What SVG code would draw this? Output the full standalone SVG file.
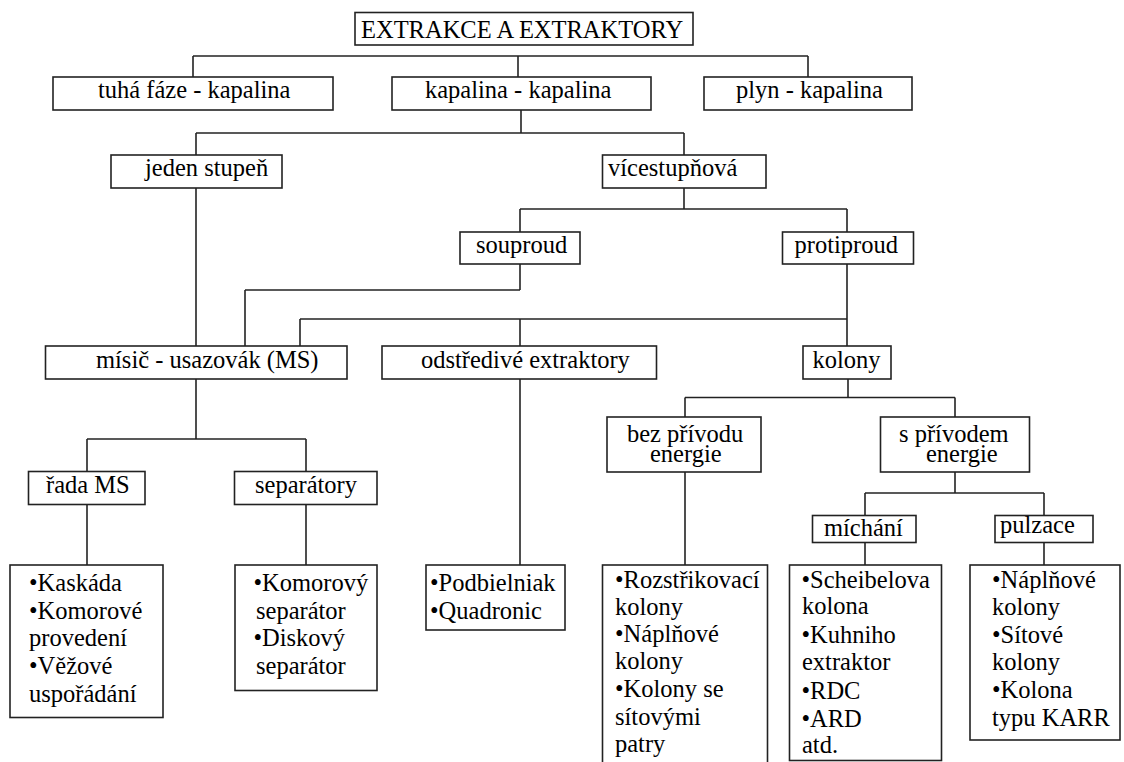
<svg xmlns="http://www.w3.org/2000/svg" width="1124" height="762" viewBox="0 0 1124 762">
<style>
.b{fill:#fff;stroke:#222;stroke-width:1.6}
.c line{stroke:#222;stroke-width:1.6}
text{font-family:"Liberation Serif","Times New Roman",serif;font-size:24.5px;fill:#000}
</style>
<rect width="1124" height="762" fill="#fff"/>
<g class="c" id="connectors">
<line x1="193" y1="56" x2="808" y2="56"/>
<line x1="193" y1="56" x2="193" y2="77"/>
<line x1="518" y1="56" x2="518" y2="77"/>
<line x1="808" y1="56" x2="808" y2="77"/>
<line x1="521" y1="110" x2="521" y2="133"/>
<line x1="196" y1="133" x2="684" y2="133"/>
<line x1="196" y1="133" x2="196" y2="155"/>
<line x1="684" y1="133" x2="684" y2="155"/>
<line x1="196" y1="188" x2="196" y2="346"/>
<line x1="684" y1="188" x2="684" y2="209"/>
<line x1="520" y1="209" x2="847" y2="209"/>
<line x1="520" y1="209" x2="520" y2="232"/>
<line x1="847" y1="209" x2="847" y2="232"/>
<line x1="520" y1="264" x2="520" y2="290"/>
<line x1="245" y1="290" x2="520" y2="290"/>
<line x1="245" y1="290" x2="245" y2="346"/>
<line x1="847" y1="264" x2="847" y2="346"/>
<line x1="300" y1="319" x2="847" y2="319"/>
<line x1="300" y1="319" x2="300" y2="346"/>
<line x1="520" y1="319" x2="520" y2="346"/>
<line x1="196" y1="379" x2="196" y2="439"/>
<line x1="87" y1="439" x2="306" y2="439"/>
<line x1="87" y1="439" x2="87" y2="472"/>
<line x1="306" y1="439" x2="306" y2="472"/>
<line x1="520" y1="379" x2="520" y2="565"/>
<line x1="848" y1="379" x2="848" y2="397.5"/>
<line x1="685" y1="397.5" x2="955" y2="397.5"/>
<line x1="685" y1="397.5" x2="685" y2="417"/>
<line x1="955" y1="397.5" x2="955" y2="417"/>
<line x1="685" y1="472" x2="685" y2="565"/>
<line x1="955" y1="472" x2="955" y2="493"/>
<line x1="865" y1="493" x2="1044" y2="493"/>
<line x1="865" y1="493" x2="865" y2="516"/>
<line x1="1044" y1="493" x2="1044" y2="516"/>
<line x1="865" y1="543" x2="865" y2="565"/>
<line x1="1044" y1="543" x2="1044" y2="565"/>
<line x1="87" y1="504.5" x2="87" y2="565"/>
<line x1="306" y1="504.5" x2="306" y2="565"/>
</g>
<g id="root"><rect class="b" x="355" y="12.5" width="338" height="32.5"/><text x="361" y="37.5">EXTRAKCE A EXTRAKTORY</text></g>
<g id="tuha"><rect class="b" x="53" y="77" width="280" height="33"/><text x="98" y="98">tuhá fáze - kapalina</text></g>
<g id="kapalina"><rect class="b" x="392" y="77" width="259" height="33"/><text x="425" y="98">kapalina - kapalina</text></g>
<g id="plyn"><rect class="b" x="704" y="77" width="208" height="33"/><text x="736" y="98">plyn - kapalina</text></g>
<g id="jeden"><rect class="b" x="111" y="155" width="171" height="33"/><text x="145" y="176">jeden stupeň</text></g>
<g id="vicestupnova"><rect class="b" x="602.5" y="155" width="163.5" height="33"/><text x="608" y="176">vícestupňová</text></g>
<g id="souproud"><rect class="b" x="460" y="232" width="120" height="32"/><text x="476" y="253">souproud</text></g>
<g id="protiproud"><rect class="b" x="782.5" y="232" width="131" height="32"/><text x="794.5" y="253">protiproud</text></g>
<g id="misic"><rect class="b" x="45.5" y="346" width="301.5" height="33"/><text x="96" y="368">mísič - usazovák (MS)</text></g>
<g id="odstredive"><rect class="b" x="382" y="346" width="274.5" height="33"/><text x="421" y="368">odstředivé extraktory</text></g>
<g id="kolony"><rect class="b" x="803" y="346" width="88" height="33"/><text x="812.5" y="368">kolony</text></g>
<g id="bez"><rect class="b" x="607" y="417" width="154" height="55"/><text x="627" y="441.5">bez přívodu</text><text x="650" y="462">energie</text></g>
<g id="spriv"><rect class="b" x="880.5" y="417" width="149" height="55"/><text x="899" y="441.5">s přívodem</text><text x="926" y="462">energie</text></g>
<g id="michani"><rect class="b" x="812.5" y="515.5" width="103.5" height="27"/><text x="824" y="536">míchání</text></g>
<g id="pulzace"><rect class="b" x="995" y="515.5" width="98" height="27"/><text x="1000" y="533">pulzace</text></g>
<g id="radams"><rect class="b" x="28.5" y="471.5" width="116.5" height="33"/><text x="46" y="492.5">řada MS</text></g>
<g id="separatory"><rect class="b" x="234.5" y="471.5" width="142.5" height="33"/><text x="255" y="492.5">separátory</text></g>
<g id="list-rada"><rect class="b" x="10" y="565" width="153" height="152.5"/>
<text x="29" y="591">•Kaskáda</text><text x="29" y="618.5">•Komorové</text><text x="29" y="646">provedení</text><text x="29" y="674">•Věžové</text><text x="29" y="701.5">uspořádání</text></g>
<g id="list-sep"><rect class="b" x="235" y="565" width="142" height="125.5"/>
<text x="253.5" y="591">•Komorový</text><text x="256" y="618.5">separátor</text><text x="253.5" y="646">•Diskový</text><text x="256" y="673.5">separátor</text></g>
<g id="list-odst"><rect class="b" x="426" y="565" width="139" height="65"/>
<text x="430" y="591">•Podbielniak</text><text x="430" y="618.5">•Quadronic</text></g>
<g id="list-bez"><rect class="b" x="602.5" y="565" width="165" height="205"/>
<text x="615" y="587.5">•Rozstřikovací</text><text x="615" y="614.5">kolony</text><text x="615" y="642">•Náplňové</text><text x="615" y="669">kolony</text><text x="615" y="697">•Kolony se</text><text x="615" y="724.5">sítovými</text><text x="615" y="752">patry</text></g>
<g id="list-mich"><rect class="b" x="789.5" y="565" width="152" height="195.5"/>
<text x="801.5" y="588">•Scheibelova</text><text x="802" y="614">kolona</text><text x="801.5" y="643">•Kuhniho</text><text x="802" y="670">extraktor</text><text x="801.5" y="699">•RDC</text><text x="801.5" y="727">•ARD</text><text x="802" y="753">atd.</text></g>
<g id="list-pulz"><rect class="b" x="970" y="565" width="150" height="175"/>
<text x="992" y="588">•Náplňové</text><text x="992" y="614.5">kolony</text><text x="992" y="643">•Sítové</text><text x="992" y="670">kolony</text><text x="992" y="698">•Kolona</text><text x="992" y="725.5">typu KARR</text></g>
</svg>
